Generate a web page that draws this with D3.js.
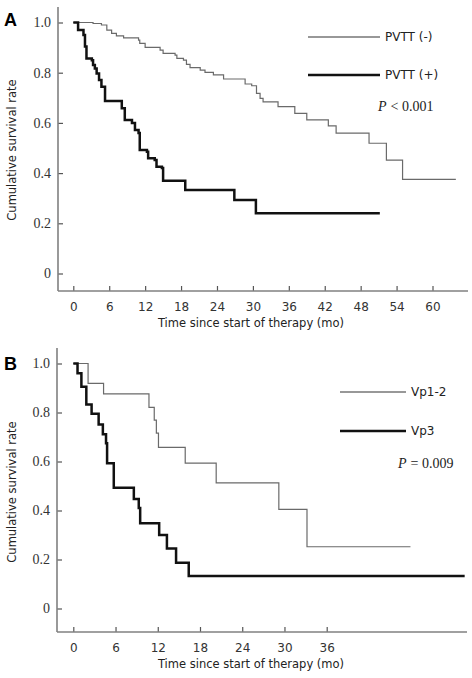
<!DOCTYPE html>
<html><head><meta charset="utf-8">
<script src="https://cdn.jsdelivr.net/npm/d3@7"></script>
<style>html,body{margin:0;padding:0;background:#fff;}svg{display:block;}</style>
</head><body>
<script>
// ---- Panel A data (months, cumulative survival) ----
const timeA_neg = [0, 3.3, 4.7, 5.6, 6.4, 7.2, 8.4, 10.9, 11.1, 12.0, 14.5, 15.0, 17.0, 17.3, 18.4, 18.9, 19.5, 21.2, 22.0, 23.4, 25.1, 28.7, 29.8, 30.6, 31.2, 31.7, 34.2, 37.0, 39.0, 42.6, 43.9, 49.4, 52.3, 55.0, 63.9];
const survA_neg = [1.0, 0.996, 0.99, 0.97, 0.957, 0.947, 0.939, 0.93, 0.917, 0.901, 0.89, 0.877, 0.87, 0.857, 0.85, 0.833, 0.82, 0.81, 0.801, 0.791, 0.775, 0.755, 0.748, 0.718, 0.698, 0.684, 0.665, 0.638, 0.612, 0.588, 0.559, 0.519, 0.452, 0.375, 0.375];
const timeA_pos = [0, 0.8, 1.7, 1.95, 2.2, 3.1, 3.3, 3.6, 3.9, 4.3, 4.7, 5.3, 8.1, 8.6, 9.8, 10.3, 10.9, 11.1, 12.3, 12.5, 13.6, 13.9, 14.8, 15.0, 18.7, 26.9, 30.5, 51.2];
const survA_pos = [1.0, 0.97, 0.95, 0.904, 0.857, 0.85, 0.831, 0.817, 0.797, 0.771, 0.744, 0.687, 0.658, 0.612, 0.60, 0.572, 0.56, 0.492, 0.485, 0.459, 0.452, 0.425, 0.42, 0.37, 0.333, 0.293, 0.24, 0.24];
const xTicksA = [0, 6, 12, 18, 24, 30, 36, 42, 48, 54, 60];
const legendA = ["PVTT (-)", "PVTT (+)"];
const pTextA = "< 0.001";

// ---- Panel B data ----
const timeB_12 = [0, 2.1, 4.3, 10.75, 11.5, 11.8, 12.1, 15.9, 20.3, 29.2, 33.2, 47.9];
const survB_12 = [1.0, 0.919, 0.876, 0.821, 0.769, 0.716, 0.658, 0.593, 0.513, 0.405, 0.252, 0.252];
const timeB_3 = [0, 0.6, 1.15, 1.85, 2.6, 3.6, 4.2, 4.65, 4.8, 5.75, 8.6, 9.3, 9.5, 12.2, 13.3, 14.6, 16.4, 55.6];
const survB_3 = [1.0, 0.96, 0.905, 0.833, 0.795, 0.751, 0.711, 0.674, 0.593, 0.493, 0.447, 0.41, 0.348, 0.30, 0.245, 0.187, 0.133, 0.133];
const xTicksB = [0, 6, 12, 18, 24, 30, 36];
const legendB = ["Vp1-2", "Vp3"];
const pTextB = "= 0.009";

const yTicks = [0, 0.2, 0.4, 0.6, 0.8, 1.0];
const yTitle = "Cumulative survival rate";
const xTitle = "Time since start of therapy (mo)";

const W = 472, H = 678;
const svg = d3.select("body").append("svg").attr("width", W).attr("height", H);

function panel(o) {
  const g = svg.append("g");
  const x = d3.scaleLinear().domain([0, o.xMax]).range([73.3, o.xMaxPx]);
  const y = d3.scaleLinear().domain([0, 1]).range([o.y0, o.y1]);
  const axisColor = "#808080";

  // axes ticks
  const xa = g.append("g").attr("transform", `translate(0,${o.axisY})`)
    .call(d3.axisBottom(x).tickValues(o.xTicks).tickSize(-5).tickSizeOuter(0).tickPadding(9));
  xa.select(".domain").remove();
  xa.selectAll("line").attr("stroke", "#555").attr("stroke-width", 1.2);
  xa.selectAll("text").attr("font-family", "DejaVu Sans, Verdana, sans-serif").attr("font-size", 12).attr("fill", "#333").attr("dy", "0.95em");

  const ya = g.append("g").attr("transform", `translate(${o.axisX},0)`)
    .call(d3.axisLeft(y).tickValues(yTicks).tickSize(-5).tickSizeOuter(0).tickPadding(7)
      .tickFormat(d => d === 0 ? "0" : d3.format(".1f")(d)));
  ya.select(".domain").remove();
  ya.selectAll("line").attr("stroke", "#555").attr("stroke-width", 1.2);
  ya.selectAll("text").attr("font-family", "Liberation Serif, Times New Roman, serif").attr("font-size", 14).attr("fill", "#333");

  // axis lines
  g.append("line").attr("x1", o.axisX).attr("x2", o.axisX).attr("y1", o.axisTop).attr("y2", o.axisY)
    .attr("stroke", axisColor).attr("stroke-width", 1.6);
  g.append("line").attr("x1", o.axisX).attr("x2", o.axisRight).attr("y1", o.axisY).attr("y2", o.axisY)
    .attr("stroke", axisColor).attr("stroke-width", 1.6);

  const line = d3.line().x(d => x(d[0])).y(d => y(d[1])).curve(d3.curveStepAfter);
  g.append("path").datum(d3.zip(o.t1, o.s1)).attr("d", line)
    .attr("fill", "none").attr("stroke", "#6a6a6a").attr("stroke-width", 1.2);
  g.append("path").datum(d3.zip(o.t2, o.s2)).attr("d", line)
    .attr("fill", "none").attr("stroke", "#111").attr("stroke-width", 2.5);

  // legend
  o.legend.forEach((lab, i) => {
    const ly = o.legY[i];
    g.append("line").attr("x1", o.legX1).attr("x2", o.legX2).attr("y1", ly).attr("y2", ly)
      .attr("stroke", i === 0 ? "#333" : "#111").attr("stroke-width", i === 0 ? 1.2 : 2.5);
    g.append("text").attr("x", o.legX2 + 5).attr("y", ly).attr("dy", "0.35em")
      .attr("font-family", "DejaVu Sans, Verdana, sans-serif").attr("font-size", 12).attr("fill", "#222").text(lab);
  });
  const pt = g.append("text").attr("x", o.pX).attr("y", o.pY).attr("dy", "0.35em")
    .attr("font-family", "Liberation Serif, Times New Roman, serif").attr("font-size", 14).attr("fill", "#222");
  pt.append("tspan").attr("font-style", "italic").text("P");
  pt.append("tspan").attr("dx", 4).text(o.pText);

  // panel letter
  g.append("text").attr("x", 4).attr("y", o.letterY).attr("font-family", "Liberation Sans, Arial, sans-serif")
    .attr("font-weight", "bold").attr("font-size", 18).attr("fill", "#000").text(o.letter);

  // titles
  g.append("text").attr("x", 251).attr("y", o.xTitleY).attr("text-anchor", "middle")
    .attr("font-family", "DejaVu Sans, Verdana, sans-serif").attr("font-size", 11.5).attr("fill", "#222").text(xTitle);
  g.append("text").attr("transform", `translate(16,${o.yTitleY}) rotate(-90)`).attr("text-anchor", "middle")
    .attr("font-family", "DejaVu Sans, Verdana, sans-serif").attr("font-size", 11.5).attr("fill", "#222").text(yTitle);
}

panel({
  letter: "A", letterY: 26,
  xMax: 60, xMaxPx: 432.5, y0: 273.5, y1: 22.5,
  axisX: 58, axisY: 291, axisTop: 7, axisRight: 468,
  xTicks: xTicksA,
  t1: timeA_neg, s1: survA_neg, t2: timeA_pos, s2: survA_pos,
  legend: legendA, legX1: 308, legX2: 380, legY: [37, 75],
  pText: pTextA, pX: 378, pY: 106,
  xTitleY: 327, yTitleY: 150
});

panel({
  letter: "B", letterY: 370,
  xMax: 36, xMaxPx: 326.7, y0: 608.5, y1: 363.5,
  axisX: 57, axisY: 632, axisTop: 348, axisRight: 467,
  xTicks: xTicksB,
  t1: timeB_12, s1: survB_12, t2: timeB_3, s2: survB_3,
  legend: legendB, legX1: 340, legX2: 406, legY: [392, 431],
  pText: pTextB, pX: 398, pY: 463,
  xTitleY: 668, yTitleY: 492
});
</script>
</body></html>
